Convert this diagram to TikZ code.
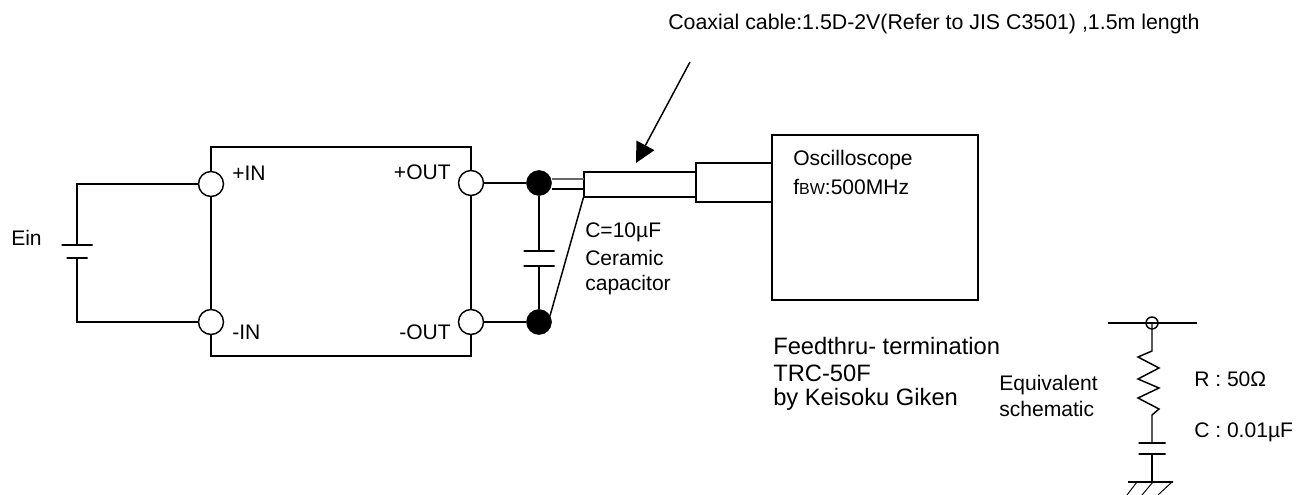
\documentclass[tikz,border=0pt]{standalone}
\usepackage{fontspec}
\setmainfont{Liberation Sans}
\usetikzlibrary{arrows.meta}
\tikzset{
  wire/.style={line width=1.1pt},
  term/.style={minimum size=18.75pt, inner sep=0pt, circle, draw, line width=1.1pt, fill=white},
  junct/.style={minimum size=18.75pt, inner sep=0pt, circle, draw, fill=black},
  boxn/.style={rectangle, draw, line width=1.1pt, inner sep=0pt},
  plate/.style={rectangle, draw, line width=1.1pt, inner sep=0pt, minimum height=0pt},
  lbl/.style={anchor=west, inner sep=0pt, font=\fontsize{15.8}{18}\selectfont},
  lblbig/.style={anchor=west, inner sep=0pt, font=\fontsize{17.8}{20}\selectfont}
}
\begin{document}
\begin{tikzpicture}[x = 0.75pt, y = -0.75pt]
	\useasboundingbox (0, 0) rectangle (1297, 495);

	% Converter
	\node[boxn, minimum width=195pt, minimum height=156.75pt] (conv) at (341, 251.5) {};

	% Scope and cable
	\node[boxn, minimum width=154.5pt, minimum height=123.75pt] (scope) at (875, 217.5) {};
	\node[boxn, minimum width=57pt, minimum height=29.25pt] (plug) at (734, 182.5) {};
	\node[boxn, line width=0.9pt, minimum width=84pt, minimum height=18.75pt] (cable) at (640, 184.5) {};

	% Input source
	\node[plate, minimum width=23.25pt] (einp) at (77, 245) {};
	\node[plate, minimum width=15.75pt] (einm) at (77, 258) {};

	% Output capacitor
	\node[plate, minimum width=23.25pt] (cop) at (539, 251) {};
	\node[plate, minimum width=23.25pt] (com) at (539, 266) {};

	% Terminals
	\node[term] (inp) at (211, 184) {};
	\node[term] (inm) at (211, 322) {};
	\node[term] (outp) at (471, 183) {};
	\node[term] (outm) at (471, 322) {};

	% Junctions
	\node[junct] (jp) at (539, 183) {};
	\node[junct] (jm) at (539, 322) {};

	% Edges
	\draw[wire] (inp) -| (einp);
	\draw[wire] (inm) -| (einm);
	\draw[wire] (outp) to (jp);
	\draw[wire] (outm) to (jm);
	\draw[wire] (jp) to (cop);
	\draw[wire] (jm) to (com);
	\draw[wire] (jm.30) to (cable.south west);

	% Cable core
	\coordinate (corea) at (584, 179);
	\coordinate (coreb) at (584, 189);
	\draw[line width=0.8pt, black!60] (corea -| jp.east) to (corea);
	\draw[wire] (coreb -| jp.east) to (coreb);

	% Cable arrow
	\coordinate (arrs) at (690, 62);
	\coordinate (arre) at (636, 163);
	\draw[wire, -{Triangle[length=15pt, width=15pt]}] (arrs) to (arre);

	% Equivalent schematic
	\coordinate (busl) at (1108, 323);
	\coordinate (busr) at (1197, 323);
	\node[circle, draw, line width=1.1pt, minimum size=9pt, inner sep=0pt] (tap) at (1152, 323) {};
	\node[plate, minimum width=20.25pt] (ctop) at (1152, 443) {};
	\node[plate, minimum width=20.25pt] (cbot) at (1152, 454) {};
	\node[plate, minimum width=33.75pt] (gnd) at (1150.5, 482) {};
	\draw[wire] (busl) to (busr);
	\draw[wire] (tap.center) -- (1152, 351) -- (1138, 357) -- (1159, 368) -- (1138, 379) -- (1159, 388)
		-- (1138, 398) -- (1159, 409) -- (1152, 415) -- (ctop);
	\draw[wire] (cbot) to (1152, 482);
	% Ground hatch
	\draw[line width=0.7pt] (1137, 482) -- (1127, 495);
	\draw[line width=0.7pt] (1153, 482) -- (1142, 495);
	\draw[line width=0.7pt] (1172, 482) -- (1158, 495);

	% Labels
	\node[lbl, font=\fontsize{16}{18}\selectfont] (lcoax) at (668, 24) {Coaxial cable:1.5D-2V(Refer to JIS C3501) ,1.5m length};
	\node[lbl] (lein) at (11, 238) {Ein};
	\node[lbl] (linp) at (232, 173) {+IN};
	\node[lbl] (linm) at (232, 332) {-IN};
	\node[lbl, anchor=east] (loutp) at (451, 172) {+OUT};
	\node[lbl, anchor=east] (loutm) at (451, 332) {-OUT};
	\node[lbl] (lscope) at (793, 160) {Oscilloscope};
	\node[lbl] (lbw) at (793, 187) {f{\fontsize{12}{14}\selectfont BW}:500MHz};
	\node[lbl] (lc) at (585, 232) {C=10µF};
	\node[lbl] (lcer) at (585, 258) {Ceramic};
	\node[lbl] (lcap) at (585, 285) {capacitor};
	\node[lblbig] (lfeed) at (773, 346) {Feedthru- termination};
	\node[lblbig] (ltrc) at (773, 373) {TRC-50F};
	\node[lblbig] (lkei) at (773, 399) {by Keisoku Giken};
	\node[lbl] (lequ) at (999, 385) {Equivalent};
	\node[lbl] (lsch) at (999, 409) {schematic};
	\node[lbl] (lr) at (1194, 379) {R : 50Ω};
	\node[lbl] (lcc) at (1194, 432) {C : 0.01µF};
\end{tikzpicture}
\end{document}
